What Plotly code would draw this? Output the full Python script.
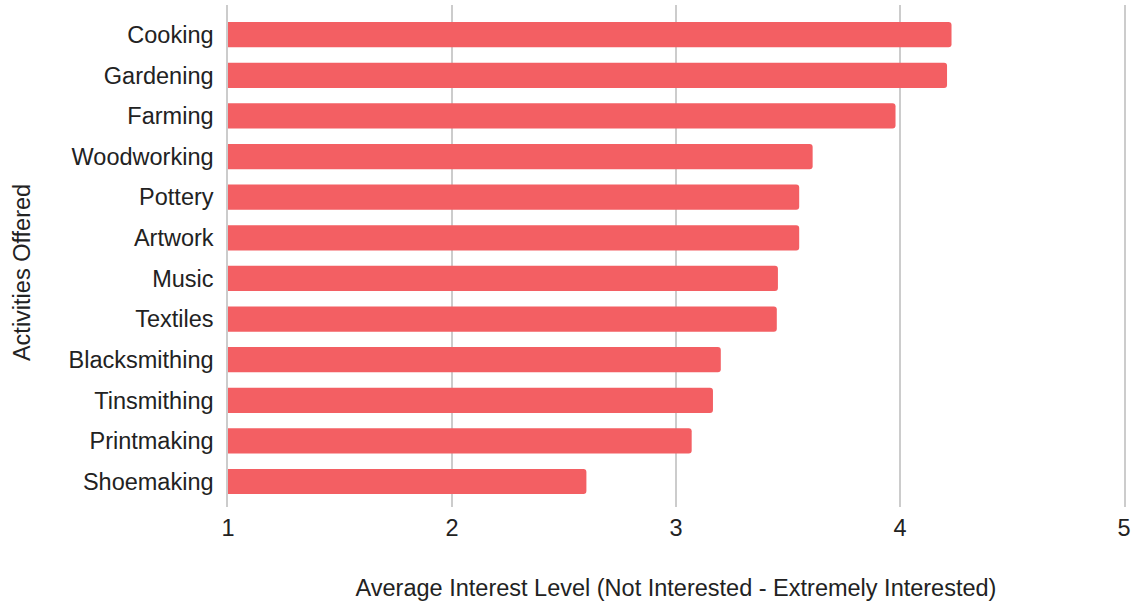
import plotly.graph_objects as go

activities = ["Cooking", "Gardening", "Farming", "Woodworking", "Pottery", "Artwork",
              "Music", "Textiles", "Blacksmithing", "Tinsmithing", "Printmaking", "Shoemaking"]
interest = [4.23, 4.21, 3.98, 3.61, 3.55, 3.55, 3.455, 3.45, 3.20, 3.165, 3.07, 2.60]
x_ticks = [1, 2, 3, 4, 5]

fig = go.Figure(go.Bar(
    x=interest, y=activities, orientation="h",
    marker=dict(color="#F35F63", line=dict(width=0)),
    hoverinfo="x+y",
))

fig.update_layout(
    width=1136, height=605,
    margin=dict(l=228, r=12, t=5, b=98),
    plot_bgcolor="white", paper_bgcolor="white",
    font=dict(family="Arial, Liberation Sans, sans-serif", size=23.5, color="#222222"),
    bargap=0.38,
    barcornerradius=3,
    showlegend=False,
    annotations=[dict(
        text="Activities Offered", textangle=-90,
        xref="paper", yref="paper", x=-0.2299, y=0.466,
        xanchor="center", yanchor="middle", showarrow=False,
        font=dict(size=23.5, color="#222222"),
    )],
)
fig.update_xaxes(
    range=[1, 5], tickvals=x_ticks, ticktext=[str(t) for t in x_ticks],
    showgrid=True, gridcolor="#cccccc", gridwidth=1.5,
    zeroline=False, showline=False, ticks="",
    ticklabelstandoff=4,
    title=dict(text="Average Interest Level (Not Interested - Extremely Interested)",
               standoff=40, font=dict(size=23.5)),
)
fig.update_yaxes(
    categoryorder="array", categoryarray=activities,
    range=[11.627, -0.731],
    showgrid=False, zeroline=False,
    showline=True, mirror=True, linecolor="#cccccc", linewidth=1.5,
    ticks="",
    ticklabelstandoff=8,
)

fig.write_html("out.html")
